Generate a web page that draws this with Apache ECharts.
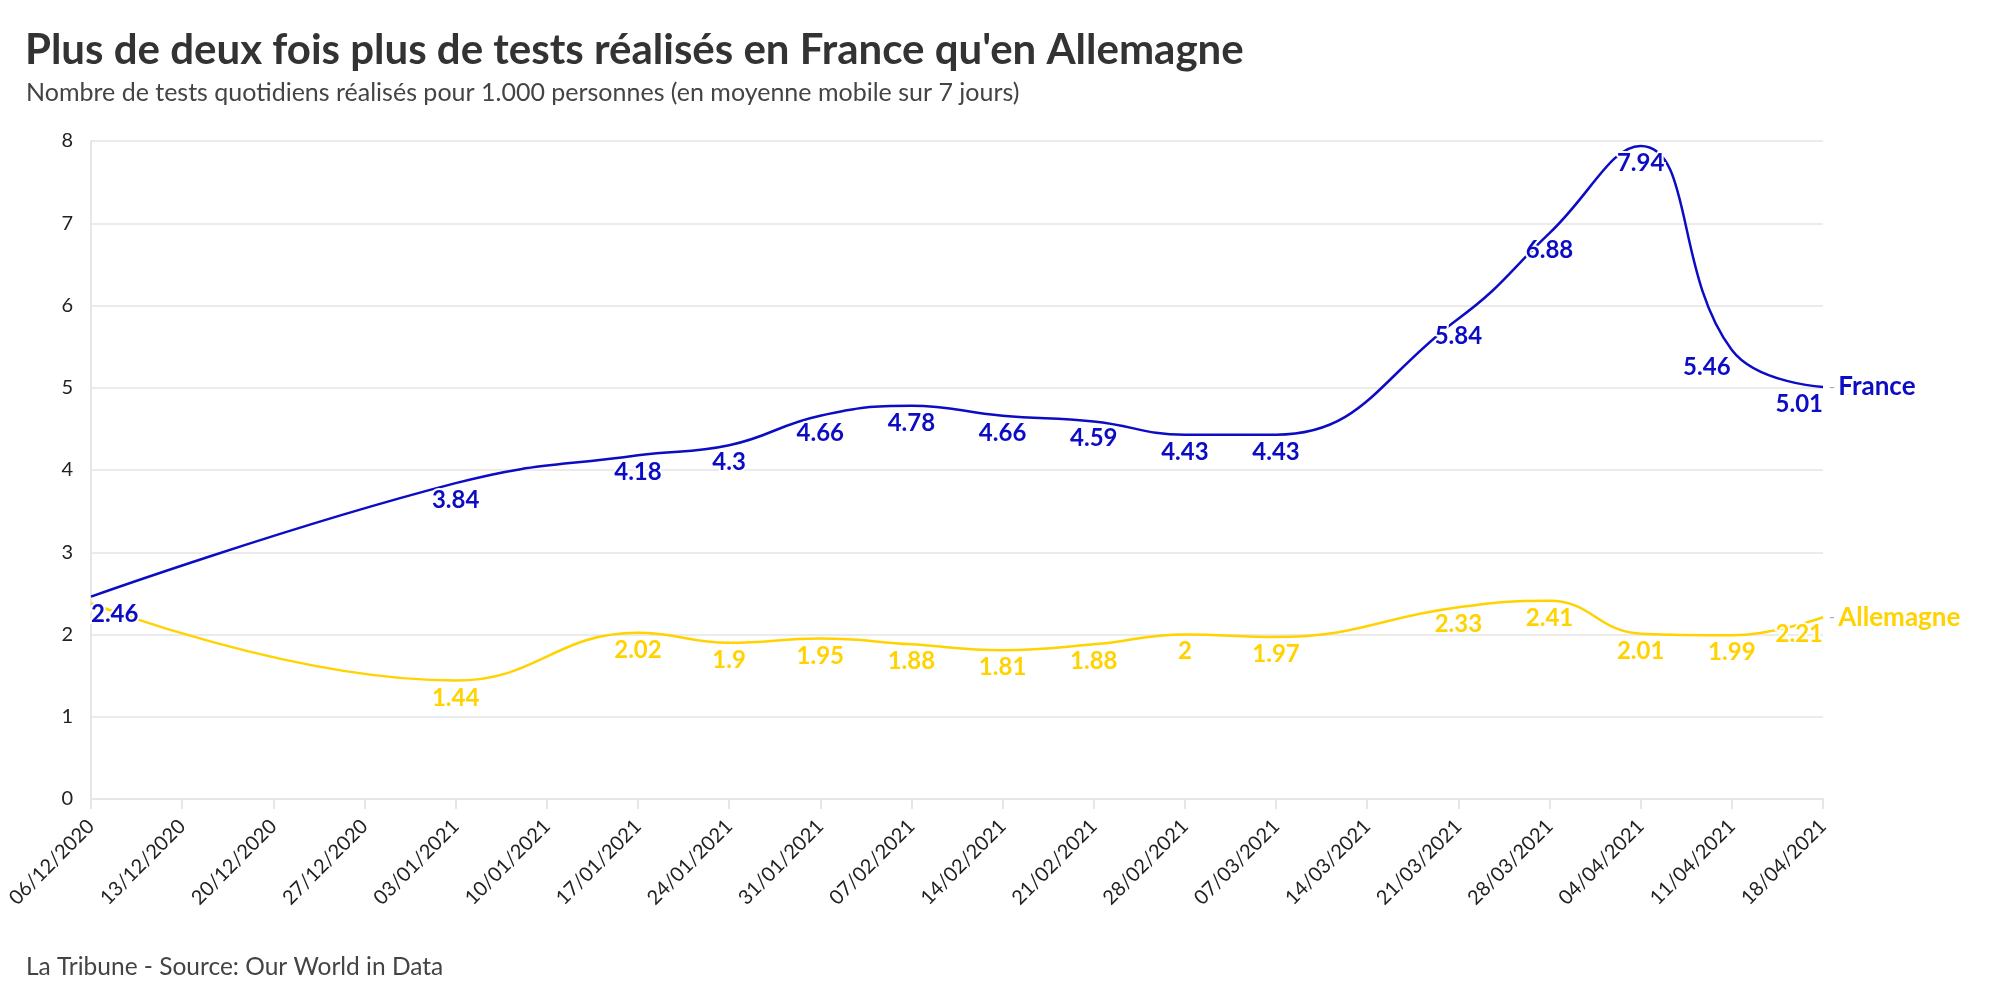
<!DOCTYPE html>
<html>
<head>
<meta charset="utf-8">
<script src="https://cdn.jsdelivr.net/npm/echarts@6/dist/echarts.min.js"></script>
<style>
html,body{margin:0;padding:0;background:#fff;}
#chart{width:2000px;height:1000px;}
</style>
</head>
<body>
<div id="chart"></div>
<script>
// Weekly tick labels (x axis categories)
const weeks = ['06/12/2020','13/12/2020','20/12/2020','27/12/2020','03/01/2021','10/01/2021','17/01/2021','24/01/2021','31/01/2021','07/02/2021','14/02/2021','21/02/2021','28/02/2021','07/03/2021','14/03/2021','21/03/2021','28/03/2021','04/04/2021','11/04/2021','18/04/2021'];
// Tests per 1,000 people (7-day average); null = no data point that week
const france    = [2.46, null, null, null, 3.84, null, 4.18, 4.3, 4.66, 4.78, 4.66, 4.59, 4.43, 4.43, null, 5.84, 6.88, 7.94, 5.46, 5.01];
const allemagne = [2.38, null, null, null, 1.44, null, 2.02, 1.9, 1.95, 1.88, 1.81, 1.88, 2, 1.97, null, 2.33, 2.41, 2.01, 1.99, 2.21];
const yTicks = [0,1,2,3,4,5,6,7,8];

const FONT = 'Lato, "Open Sans", sans-serif';
const BLUE = '#0c0cc4';
const YELLOW = '#ffd200';

function buildData(arr, hideFirst){
  const last = arr.length - 1;
  return arr.map((v, i) => {
    if (v === null) return null;
    const item = { value: v };
    if (i === 0) item.label = hideFirst ? { show: false } : { align: 'left' };
    if (i === last) item.label = { align: 'right' };
    return item;
  });
}

function series(name, arr, color, hideFirst, shiftLeftIdx){
  return {
    name: name,
    type: 'line',
    data: buildData(arr, hideFirst),
    connectNulls: true,
    smooth: 0.45,
    showSymbol: true,
    symbol: 'circle',
    symbolSize: 0.5,
    itemStyle: { color: 'rgba(0,0,0,0)', borderWidth: 0 },
    lineStyle: { color: color, width: 2.5 },
    label: {
      show: true,
      position: 'bottom',
      distance: 5,
      color: color,
      fontFamily: FONT,
      fontWeight: 'bold',
      fontSize: 24,
      textBorderColor: '#fff',
      textBorderWidth: 4
    },
    labelLayout: function (p) {
      if (p.dataIndex === shiftLeftIdx) return { dx: -25, hideOverlap: false };
      return { hideOverlap: false };
    },
    endLabel: {
      show: true,
      distance: 6,
      formatter: '{d|-} {n|' + name + '}',
      rich: {
        d: { color: '#aaa', fontSize: 16, fontFamily: FONT },
        n: { color: color, fontSize: 26, fontWeight: 'bold', fontFamily: FONT }
      }
    },
    emphasis: { disabled: true },
    z: name === 'France' ? 3 : 2
  };
}

const chart = echarts.init(document.getElementById('chart'), null, { renderer: 'canvas' });
chart.setOption({
  backgroundColor: '#fff',
  animation: false,
  title: [
    { text: "Plus de deux fois plus de tests réalisés en France qu'en Allemagne", left: 20, top: 24,
      textStyle: { fontFamily: FONT, fontWeight: 'bold', fontSize: 42, color: '#333' } },
    { text: 'Nombre de tests quotidiens réalisés pour 1.000 personnes (en moyenne mobile sur 7 jours)', left: 21, top: 75,
      textStyle: { fontFamily: FONT, fontWeight: 'normal', fontSize: 25, color: '#444' } },
    { text: 'La Tribune - Source: Our World in Data', left: 21, top: 950,
      textStyle: { fontFamily: FONT, fontWeight: 'normal', fontSize: 24.5, color: '#444' } }
  ],
  grid: { left: 91, right: 177, top: 141, bottom: 201, containLabel: false },
  xAxis: {
    type: 'category',
    data: weeks,
    boundaryGap: false,
    axisLine: { show: true, lineStyle: { color: '#e6e6e6', width: 2 } },
    axisTick: { show: true, length: 10, lineStyle: { color: '#e6e6e6', width: 2 } },
    axisLabel: { rotate: 45, margin: 24, fontFamily: FONT, fontSize: 20, color: '#222', interval: 0 },
    splitLine: { show: false }
  },
  yAxis: {
    type: 'value',
    min: yTicks[0], max: yTicks[yTicks.length - 1], interval: 1,
    axisLine: { show: true, lineStyle: { color: '#e6e6e6', width: 2 } },
    axisTick: { show: false },
    axisLabel: { margin: 18, fontFamily: FONT, fontSize: 20, color: '#222' },
    splitLine: { show: true, lineStyle: { color: '#ebebeb', width: 2 } }
  },
  series: [
    series('Allemagne', allemagne, YELLOW, true, -1),
    series('France', france, BLUE, false, 18)
  ]
});
</script>
</body>
</html>
